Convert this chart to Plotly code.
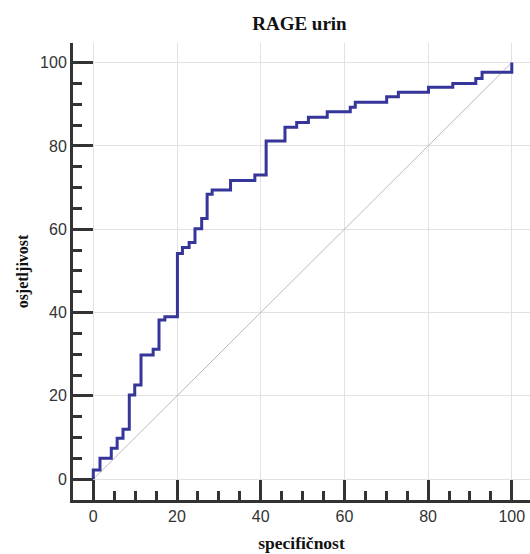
import plotly.graph_objects as go

# ROC step curve corner points (x = 100 - specificity style axis, y = sensitivity)
spec = [0, 0, 1.6, 4.3, 5.7, 7.1, 8.6, 9.9, 11.4, 14.3, 15.7, 17.1, 20.1, 21.3, 22.9,
        24.3, 25.9, 27.2, 28.4, 32.8, 38.6, 41.3, 45.8, 48.6, 51.4, 55.9, 61.4, 62.6,
        70.1, 72.9, 80.1, 85.9, 91.4, 92.9, 100]
sens = [0, 2.2, 5.0, 7.4, 9.8, 12.0, 20.2, 22.6, 29.8, 31.2, 38.2, 39.0, 54.2, 55.6, 56.8,
        60.1, 62.6, 68.4, 69.4, 71.7, 73.0, 81.2, 84.5, 85.6, 86.9, 88.2, 89.3, 90.5,
        91.8, 92.9, 94.1, 95.0, 96.2, 97.7, 100]
diag_x = [0, 100]
diag_y = [0, 100]
tick_vals = [0, 20, 40, 60, 80, 100]

fig = go.Figure()
fig.add_trace(go.Scatter(x=diag_x, y=diag_y, mode="lines",
                         line=dict(color="#c4b4c6", width=1), hoverinfo="skip"))
fig.add_trace(go.Scatter(x=spec, y=sens, mode="lines", line_shape="hv",
                         line=dict(color="#35359a", width=3)))

axis_common = dict(
    showline=True, linecolor="#333333", linewidth=3,
    ticks="inside", ticklen=20, tickwidth=2.5, tickcolor="#333333",
    tickvals=tick_vals,
    tickfont=dict(family="Liberation Sans, Arial", size=16, color="#333333"),
    showgrid=True, gridcolor="#e2e2e2", gridwidth=1,
    zeroline=False,
    minor=dict(ticks="inside", ticklen=9, tickwidth=2.5, tickcolor="#333333",
               dtick=5, showgrid=False),
)

fig.update_layout(
    width=530, height=554,
    margin=dict(l=73, r=0, t=43, b=54),
    paper_bgcolor="white", plot_bgcolor="white",
    showlegend=False,
    title=dict(text="<b>RAGE urin</b>", x=0.565, xanchor="center", y=0.958, yanchor="middle",
               font=dict(family="Liberation Serif, Times New Roman", size=19, color="#111111")),
    xaxis=dict(range=[-4.85, 104.35],
               title=dict(text="<b>specifičnost</b>", standoff=13,
                          font=dict(family="Liberation Serif, Times New Roman", size=17.5, color="#111111")),
               **axis_common),
    yaxis=dict(range=[-5, 104.7],
               title=dict(text="<b>osjetljivost</b>", standoff=8,
                          font=dict(family="Liberation Serif, Times New Roman", size=16, color="#111111")),
               **axis_common),
)

fig.write_html("out.html", config={"displayModeBar": False},
               post_script="document.body.style.margin='0';document.body.style.padding='0';")
